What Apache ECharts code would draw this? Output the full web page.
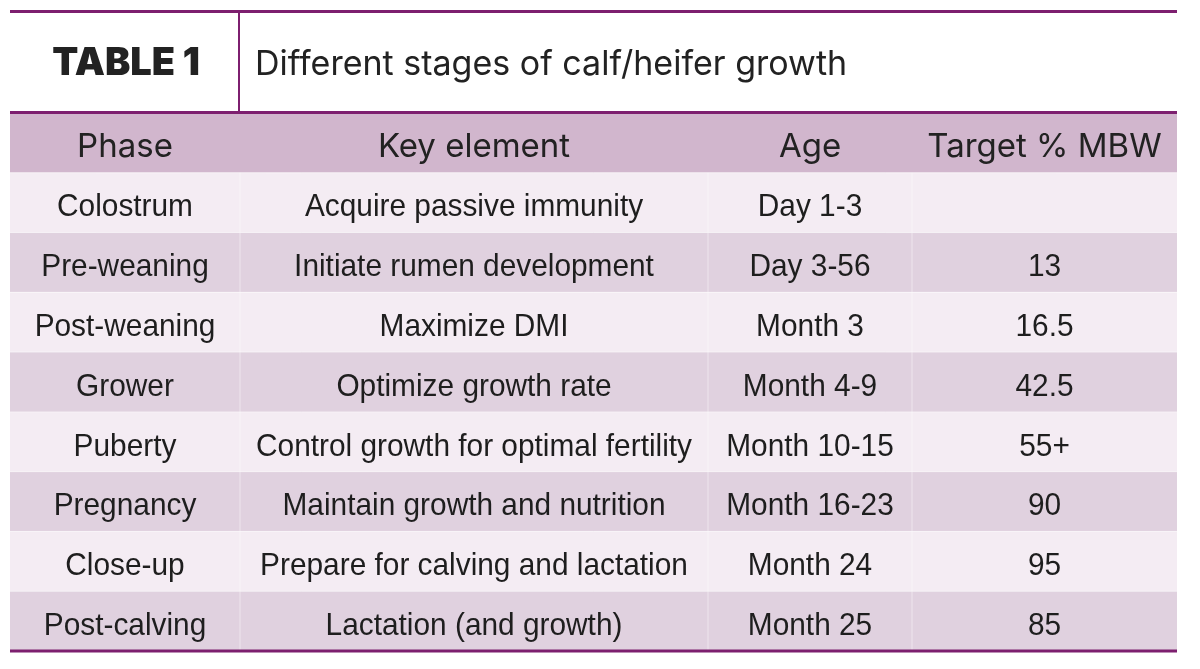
<!DOCTYPE html>
<html>
<head>
<meta charset="utf-8">
<script src="https://cdn.jsdelivr.net/npm/echarts@6/dist/echarts.min.js"></script>
<style>
html,body{margin:0;padding:0;background:#fff;}
#chart{width:1200px;height:669px;}
</style>
</head>
<body>
<div id="chart"></div>
<script>
// ---- data ----
var tableLabel = 'TABLE 1';
var tableTitle = 'Different stages of calf/heifer growth';
var headers = ['Phase', 'Key element', 'Age', 'Target % MBW'];
var phases = ['Colostrum', 'Pre-weaning', 'Post-weaning', 'Grower', 'Puberty', 'Pregnancy', 'Close-up', 'Post-calving'];
var keyElements = ['Acquire passive immunity', 'Initiate rumen development', 'Maximize DMI', 'Optimize growth rate',
  'Control growth for optimal fertility', 'Maintain growth and nutrition', 'Prepare for calving and lactation', 'Lactation (and growth)'];
var ages = ['Day 1-3', 'Day 3-56', 'Month 3', 'Month 4-9', 'Month 10-15', 'Month 16-23', 'Month 24', 'Month 25'];
var targets = ['', '13', '16.5', '42.5', '55+', '90', '95', '85'];

// ---- layout / style ----
var LEFT = 10, RIGHT = 1177;
var colEdges = [10, 240, 708, 912, 1177];
var purple = '#7d1f6f';
var headerFill = '#d1b6cd';
var rowFills = ['#f4ecf3', '#e0d1df'];
var bodyFontFamily = '"Liberation Sans", Arial, sans-serif';
var bodyFont = '400 32px ' + bodyFontFamily;
var headFont = 'Inter, Roboto, sans-serif';

// horizontal condensing factor for body text (reference widest line ~436px)
var cv = document.createElement('canvas').getContext('2d');
cv.font = bodyFont;
var bodyScaleX = 436 / cv.measureText('Control growth for optimal fertility').width;

var rowLabels = ['header'].concat(phases);
var rowsData = rowLabels.map(function (r, i) { return [i, 0]; });

var chart = echarts.init(document.getElementById('chart'));

function renderRow(params, api) {
  var idx = api.value(0);
  var center = api.coord([0, idx]);
  var size = api.size([0, 1]);
  var h = size[1];
  var top = center[1] - h / 2;
  var children = [];
  var fill = idx === 0 ? headerFill : rowFills[(idx - 1) % 2];
  children.push({type: 'rect', shape: {x: LEFT, y: top, width: RIGHT - LEFT, height: h}, style: {fill: fill}});
  if (idx > 0) {
    for (var c = 1; c < colEdges.length - 1; c++) {
      children.push({type: 'line', shape: {x1: colEdges[c], y1: top, x2: colEdges[c], y2: top + h},
        style: {stroke: 'rgba(255,255,255,0.45)', lineWidth: 1}});
    }
    children.push({type: 'line', shape: {x1: LEFT, y1: top, x2: RIGHT, y2: top},
      style: {stroke: 'rgba(255,255,255,0.5)', lineWidth: 1}});
  }
  var texts = idx === 0 ? headers : [phases[idx - 1], keyElements[idx - 1], ages[idx - 1], targets[idx - 1]];
  for (var k = 0; k < 4; k++) {
    var cx = (colEdges[k] + colEdges[k + 1]) / 2;
    if (idx === 0) {
      children.push({type: 'text', x: cx, y: center[1] + 4,
        style: {text: texts[k], fill: '#222', align: 'center', verticalAlign: 'middle', font: '400 33px ' + headFont}});
    } else {
      children.push({type: 'text', x: cx, y: center[1] + 5, scaleX: bodyScaleX,
        style: {text: texts[k], fill: '#1e1e1e', align: 'center', verticalAlign: 'middle', font: bodyFont}});
    }
  }
  return {type: 'group', children: children};
}

chart.setOption({
  animation: false,
  backgroundColor: '#fff',
  grid: {left: 10, right: 23, top: 113, bottom: 18, containLabel: false},
  xAxis: {type: 'value', min: 0, max: 1, show: false},
  yAxis: {type: 'category', data: rowLabels, inverse: true, show: false},
  series: [{
    type: 'custom',
    renderItem: renderRow,
    data: rowsData,
    clip: false
  }],
  graphic: [
    {type: 'line', shape: {x1: LEFT, y1: 11.5, x2: RIGHT, y2: 11.5}, style: {stroke: purple, lineWidth: 3}, z: 100},
    {type: 'line', shape: {x1: LEFT, y1: 112.5, x2: RIGHT, y2: 112.5}, style: {stroke: purple, lineWidth: 3}, z: 100},
    {type: 'line', shape: {x1: 239, y1: 12, x2: 239, y2: 112}, style: {stroke: purple, lineWidth: 2}, z: 100},
    {type: 'line', shape: {x1: LEFT, y1: 651, x2: RIGHT, y2: 651}, style: {stroke: purple, lineWidth: 3}, z: 100},
    {type: 'text', x: 126, y: 64, z: 100,
      style: {text: tableLabel, fill: '#222', align: 'center', verticalAlign: 'middle', font: '900 38px ' + headFont}},
    {type: 'text', x: 255, y: 65, z: 100,
      style: {text: tableTitle, fill: '#222', align: 'left', verticalAlign: 'middle', font: '400 34px ' + headFont}}
  ]
});
</script>
</body>
</html>
